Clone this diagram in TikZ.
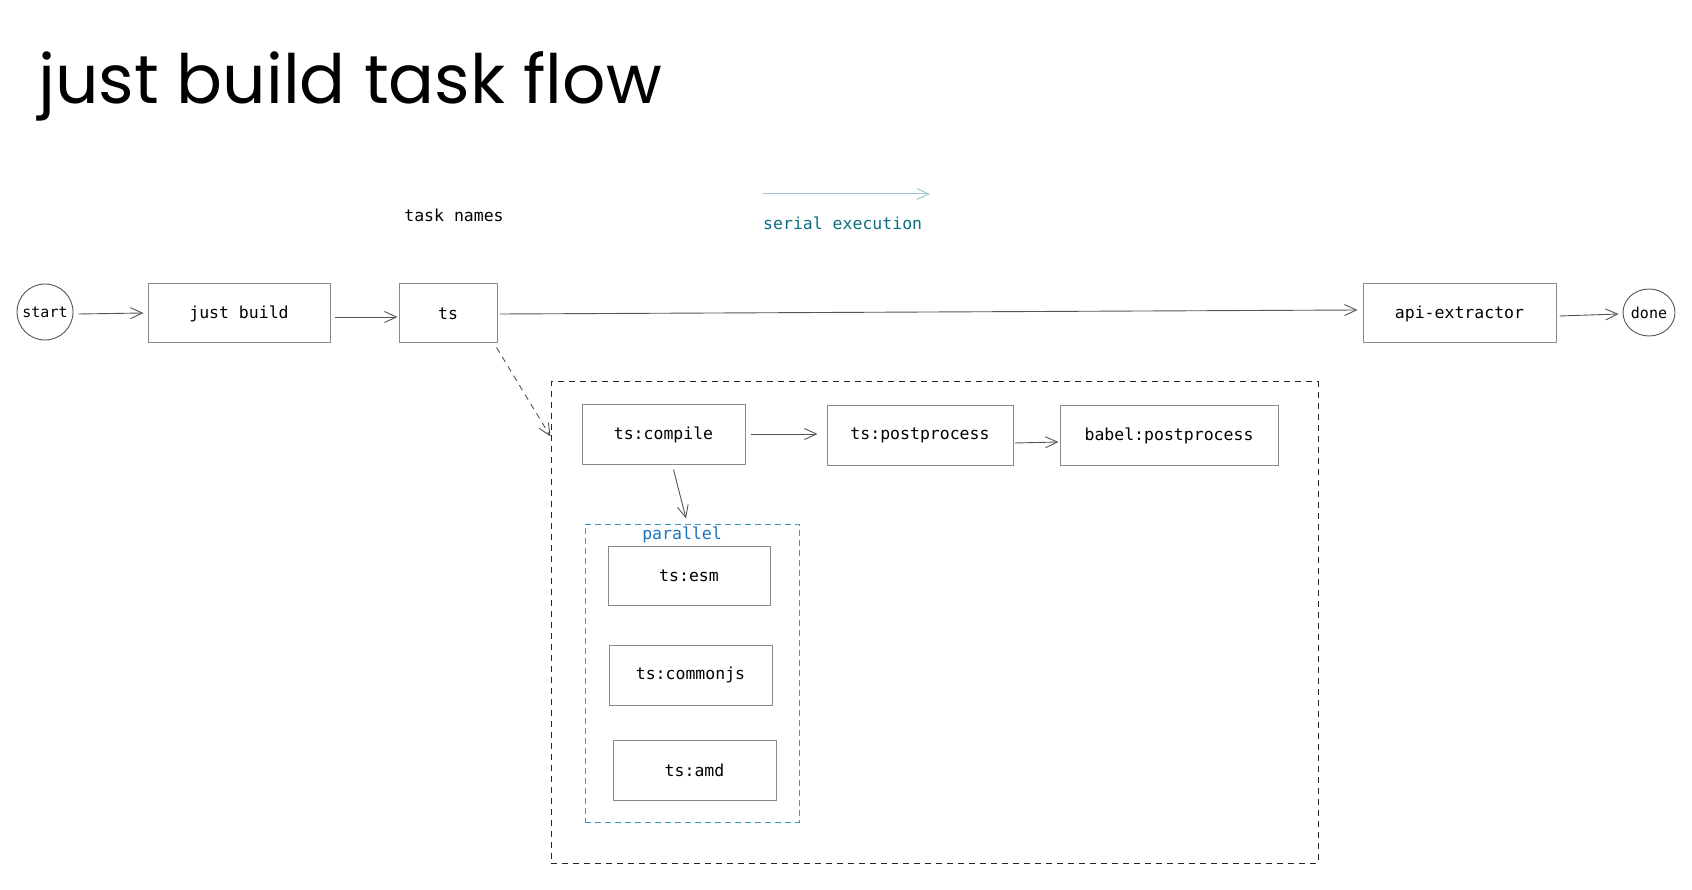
\documentclass[tikz,border=0pt]{standalone}
\usepackage{fontspec}
\setmonofont{DejaVu Sans Mono}
\newfontfamily\titlefont{Poppins}
\usetikzlibrary{arrows.meta,shapes.geometric}
\definecolor{boxgray}{HTML}{8A8A8A}
\definecolor{arrgray}{HTML}{555555}
\definecolor{serialtxt}{HTML}{0B6E82}
\definecolor{serialln}{HTML}{9CC9D1}
\definecolor{partxt}{HTML}{1971C2}
\definecolor{parln}{HTML}{3A9BB3}
\tikzset{
  taskbox/.style={draw=boxgray, line width=1pt, inner sep=0pt, font=\ttfamily\fontsize{16.5}{18}\selectfont},
  endpt/.style={draw=arrgray, line width=0.9pt, ellipse, inner sep=0pt, font=\ttfamily\fontsize{15}{18}\selectfont},
  lbl/.style={inner sep=0pt, font=\ttfamily\fontsize{16.5}{18}\selectfont},
  flow/.style={draw=arrgray, line width=0.9pt, -{Straight Barb[length=12pt,width=11pt]}},
}
\begin{document}
\begin{tikzpicture}[x=1pt,y=-1pt]
\useasboundingbox (0,0) rectangle (1692,890);
% title
\node[anchor=west, inner sep=0pt, font=\titlefont\fontsize{68}{70}\selectfont] (title) at (38,86) {just build task flow};
% legend
\node[lbl] (tasknames) at (454,215) {task names};
\coordinate (serA) at (763,194);
\coordinate (serB) at (930,194);
\draw[draw=serialln, line width=1pt, -{Straight Barb[length=12pt,width=11pt]}] (serA) -- (serB);
\node[lbl, anchor=west, text=serialtxt] (serial) at (763,223) {serial execution};
% main row
\node[endpt, minimum width=56pt, minimum height=56pt] (start) at (45,312) {\makebox[0pt]{start}};
\node[taskbox, minimum width=182pt, minimum height=59pt] (jb) at (239,313.5) {just build};
\node[taskbox, minimum width=98pt, minimum height=59pt] (ts) at (448,313.5) {ts};
\node[taskbox, minimum width=193pt, minimum height=59pt] (api) at (1459.5,313.5) {api-extractor};
\node[endpt, minimum width=52pt, minimum height=47pt] (done) at (1649,312.5) {\makebox[0pt]{done}};
% outer group
\node[draw=black!85, line width=1pt, dash pattern=on 6pt off 5pt, minimum width=767pt, minimum height=481pt, inner sep=0pt] (grp) at (934.5,622.5) {};
\node[taskbox, minimum width=163pt, minimum height=59pt] (compile) at (663.5,434.5) {ts:compile};
\node[taskbox, minimum width=186pt, minimum height=59pt] (post) at (920,435.5) {ts:postprocess};
\node[taskbox, minimum width=218pt, minimum height=59pt] (babel) at (1169,435.5) {babel:postprocess};
% parallel group
\node[draw=parln, line width=1pt, dash pattern=on 6pt off 4pt, minimum width=214pt, minimum height=298pt, inner sep=0pt] (par) at (692,673) {};
\node[lbl, text=partxt] (partitle) at (682,535) {parallel};
\node[taskbox, minimum width=162pt, minimum height=59pt] (esm) at (689,575.5) {ts:esm};
\node[taskbox, minimum width=163pt, minimum height=60pt] (cjs) at (690.5,675) {ts:commonjs};
\node[taskbox, minimum width=163pt, minimum height=60pt] (amd) at (694.5,770) {ts:amd};
% connectors
\draw[flow] ([xshift=5pt,yshift=-2pt]start.east) -- ([xshift=-4pt,yshift=0.5pt]jb.west);
\draw[flow] ([xshift=4pt,yshift=-3.5pt]jb.east) -- ([xshift=-1pt,yshift=-3.5pt]ts.west);
\draw[flow] ([xshift=2pt,yshift=-0.5pt]ts.east) -- ([xshift=-5pt,yshift=3.5pt]api.west);
\draw[flow] ([xshift=3pt,yshift=-2.5pt]api.east) -- ([xshift=-4pt,yshift=-1.5pt]done.west);
\draw[flow, dash pattern=on 6pt off 5pt] ([xshift=-1pt,yshift=-4pt]ts.south east) -- ([yshift=-55pt]grp.north west);
\draw[flow] ([xshift=5pt,yshift=0.5pt]compile.east) -- ([xshift=-9pt,yshift=1.5pt]post.west);
\draw[flow] ([xshift=1pt,yshift=-7.5pt]post.east) -- ([xshift=-1pt,yshift=-6.5pt]babel.west);
\draw[flow] ([xshift=10pt,yshift=-5pt]compile.south) -- ([xshift=-6pt,yshift=5pt]par.north);
\end{tikzpicture}
\end{document}
